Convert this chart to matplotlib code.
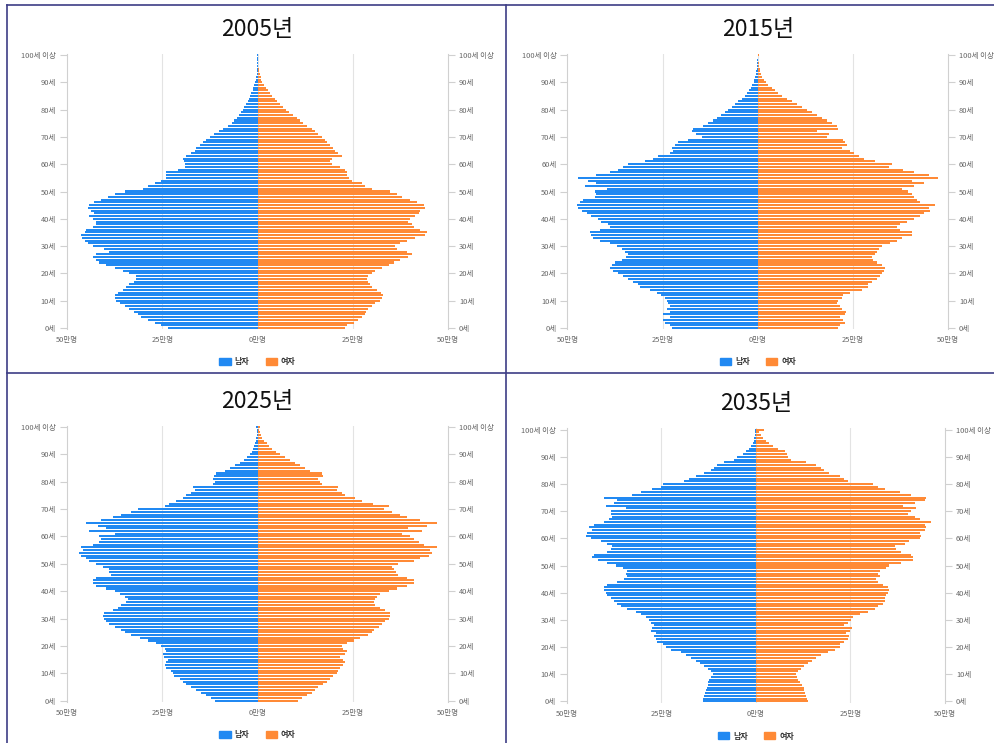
import numpy as np
import matplotlib
matplotlib.use("Agg")
import matplotlib.pyplot as plt
from matplotlib.patches import Patch
from matplotlib.lines import Line2D

plt.rcParams['font.family'] = ['Noto Sans CJK KR', 'DejaVu Sans']

ages = np.arange(101)
years = ["2005년", "2015년", "2025년", "2035년"]
age_ticks = [0, 10, 20, 30, 40, 50, 60, 70, 80, 90, 100]
age_labels = ["0세", "10세", "20세", "30세", "40세", "50세", "60세", "70세", "80세", "90세", "100세 이상"]
x_ticks = [-50, -25, 0, 25, 50]
x_labels = ["50만명", "25만명", "0만명", "25만명", "50만명"]

# population by single age, unit: 만명
male_2005 = [23.5, 25.3, 27.0, 28.8, 30.5, 31.4, 32.3, 33.6, 34.9, 36.2,
             37.1, 37.5, 37.3, 36.7, 35.4, 34.5, 33.6, 32.5, 31.8, 32.0,
             33.6, 35.4, 37.5, 39.7, 41.7, 42.5, 43.2, 42.4, 38.9, 40.2,
             43.2, 44.6, 45.4, 46.0, 46.3, 45.4, 45.0, 43.2, 42.4, 42.5,
             43.2, 44.1, 42.8, 43.7, 44.6, 44.1, 42.8, 41.1, 39.3, 37.5,
             34.9, 30.1, 28.8, 27.0, 25.3, 23.9, 24.1, 23.9, 20.9, 19.1,
             18.9, 19.4, 19.6, 18.7, 17.4, 16.5, 16.1, 15.2, 14.3, 13.4,
             12.5, 11.5, 10.1, 9.0, 7.7, 6.8, 6.1, 5.5, 4.9, 4.4,
             3.9, 3.5, 3.1, 2.6, 2.3, 1.9, 1.6, 1.3, 1.05, 0.8,
             0.6, 0.45, 0.35, 0.25, 0.2, 0.15, 0.1, 0.08, 0.05, 0.04, 0.1]
female_2005 = [23.0, 23.6, 25.2, 26.5, 27.4, 28.2, 28.5, 29.1, 30.0, 30.9,
               32.2, 32.6, 32.9, 32.4, 31.3, 30.0, 29.4, 29.1, 28.7, 29.1,
               30.0, 30.9, 32.6, 34.4, 35.7, 37.5, 39.6, 40.5, 39.2, 36.6,
               36.1, 37.5, 39.2, 41.4, 44.0, 44.5, 42.7, 41.0, 40.5, 39.6,
               40.1, 41.4, 42.3, 42.7, 44.0, 43.6, 41.8, 40.1, 37.9, 36.6,
               34.8, 30.0, 28.2, 27.4, 24.7, 23.9, 23.6, 23.4, 23.0, 21.7,
               19.5, 18.9, 19.5, 22.1, 21.2, 20.4, 19.9, 19.0, 18.2, 17.7,
               16.8, 16.0, 15.1, 14.2, 12.9, 12.0, 11.1, 10.3, 9.2, 8.3,
               7.5, 6.6, 5.9, 5.2, 4.6, 3.9, 3.4, 2.8, 2.2, 1.7,
               1.2, 1.0, 0.8, 0.6, 0.45, 0.35, 0.25, 0.2, 0.15, 0.1, 0.2]
male_2015 = [22.6, 23.1, 24.4, 24.8, 23.1, 24.8, 23.1, 23.9, 23.1, 23.5,
             23.9, 24.4, 25.3, 26.6, 28.3, 31.0, 31.4, 32.7, 34.0, 35.4,
             36.7, 38.0, 38.9, 38.4, 37.5, 35.8, 34.5, 34.0, 34.9, 35.8,
             37.1, 38.9, 41.5, 43.2, 43.9, 44.1, 41.5, 38.9, 39.3, 41.1,
             41.9, 43.7, 45.0, 46.1, 47.2, 47.6, 46.8, 45.9, 42.8, 42.4,
             42.8, 39.7, 45.4, 42.4, 44.6, 47.2, 42.4, 38.9, 36.7, 35.4,
             34.0, 29.6, 27.5, 26.1, 23.1, 22.2, 22.6, 21.8, 20.9, 18.2,
             14.7, 16.1, 17.4, 16.9, 14.3, 13.0, 11.7, 10.8, 9.7, 8.6,
             7.7, 6.8, 6.0, 5.1, 4.2, 3.3, 2.7, 2.3, 1.8, 1.5,
             1.1, 0.9, 0.7, 0.5, 0.35, 0.25, 0.18, 0.12, 0.08, 0.05, 0.05]
female_2015 = [21.2, 21.7, 23.0, 22.5, 21.7, 23.0, 23.2, 22.1, 21.7, 20.8,
               21.2, 22.1, 22.5, 24.3, 27.4, 29.1, 29.1, 30.0, 31.3, 32.2,
               32.6, 33.1, 33.5, 32.6, 31.3, 30.4, 30.0, 30.9, 31.3, 31.8,
               32.6, 34.8, 36.6, 37.9, 40.5, 40.5, 37.5, 36.6, 37.5, 39.2,
               41.0, 42.7, 43.6, 45.4, 44.9, 46.7, 42.7, 41.8, 41.0, 40.5,
               39.6, 37.9, 41.0, 43.6, 40.5, 47.5, 44.9, 41.0, 38.3, 34.4,
               35.3, 30.9, 27.8, 26.5, 25.2, 24.3, 22.1, 23.4, 23.0, 22.5,
               18.2, 18.6, 15.5, 21.2, 20.8, 19.5, 18.2, 16.8, 15.5, 14.2,
               12.9, 11.6, 10.3, 8.9, 7.6, 6.3, 5.4, 4.6, 3.7, 2.8,
               2.2, 1.7, 1.1, 0.9, 0.7, 0.5, 0.35, 0.25, 0.18, 0.12, 0.3]
male_2025 = [11.2, 12.1, 13.4, 14.7, 16.1, 17.4, 18.7, 19.6, 20.4, 21.8,
             22.2, 22.6, 23.9, 24.4, 24.1, 23.5, 24.6, 24.8, 23.9, 24.4,
             25.3, 26.6, 28.8, 30.9, 33.2, 34.9, 35.8, 37.5, 38.9, 39.7,
             40.2, 40.6, 40.2, 38.0, 36.7, 35.8, 34.5, 34.0, 34.9, 36.0,
             37.5, 39.7, 42.4, 43.2, 43.2, 42.4, 38.4, 38.9, 38.9, 40.6,
             42.4, 44.1, 45.0, 46.3, 46.8, 45.9, 46.3, 43.2, 41.5, 41.1,
             41.5, 37.5, 44.1, 39.7, 41.9, 45.0, 41.1, 38.0, 35.8, 33.2,
             31.4, 24.4, 23.1, 21.3, 19.6, 18.7, 17.4, 16.5, 16.9, 11.7,
             11.2, 11.8, 11.5, 10.8, 8.6, 7.3, 6.0, 4.6, 3.6, 2.7,
             2.0, 1.5, 1.1, 0.9, 0.7, 0.5, 0.35, 0.25, 0.15, 0.1, 0.3]
female_2025 = [10.7, 11.6, 12.9, 14.2, 15.1, 16.0, 17.3, 18.2, 19.0, 19.9,
               20.8, 21.2, 21.7, 22.5, 23.0, 22.5, 21.7, 23.0, 23.4, 22.5,
               22.1, 23.4, 25.2, 26.9, 29.1, 30.0, 30.5, 31.8, 32.6, 33.5,
               34.4, 34.8, 34.8, 33.5, 32.2, 30.9, 30.5, 30.9, 31.3, 32.2,
               34.4, 36.6, 39.2, 41.0, 41.0, 39.2, 36.9, 36.4, 35.7, 35.3,
               37.0, 41.0, 42.7, 44.9, 45.8, 45.4, 47.1, 43.6, 42.3, 41.0,
               40.1, 37.9, 43.2, 39.6, 44.5, 47.1, 42.7, 39.2, 37.5, 35.3,
               33.1, 34.4, 30.4, 27.4, 25.6, 23.0, 22.1, 20.8, 21.0, 16.8,
               16.4, 16.0, 17.3, 16.8, 13.8, 12.5, 11.1, 9.8, 8.5, 7.2,
               5.9, 4.8, 3.9, 3.1, 2.4, 1.7, 1.2, 0.9, 0.6, 0.5, 0.6]
male_2035 = [14.1, 13.9, 13.7, 13.5, 13.3, 13.0, 12.8, 12.6, 12.4, 11.9,
             11.5, 11.9, 12.8, 13.7, 14.8, 15.9, 17.2, 18.6, 19.9, 22.5,
             23.9, 24.7, 26.1, 26.5, 26.9, 26.5, 27.8, 27.4, 26.9, 27.8,
             28.3, 29.2, 30.5, 31.8, 34.0, 35.8, 36.7, 37.5, 38.4, 39.3,
             39.8, 40.2, 40.2, 39.3, 36.7, 35.0, 34.0, 34.5, 34.0, 35.3,
             37.1, 39.3, 41.9, 43.3, 42.8, 39.3, 38.4, 38.0, 39.3, 41.1,
             43.7, 45.1, 44.6, 43.3, 44.2, 42.8, 40.2, 38.9, 38.0, 38.4,
             38.4, 34.5, 39.8, 37.5, 36.7, 40.2, 32.7, 30.5, 27.4, 25.2,
             24.7, 19.0, 17.7, 15.9, 13.7, 11.9, 11.0, 10.2, 8.4, 5.7,
             4.9, 3.5, 2.7, 1.8, 1.3, 0.9, 0.6, 0.4, 0.3, 0.2, 0.3]
female_2035 = [13.7, 13.5, 13.3, 13.0, 12.8, 12.6, 12.1, 11.7, 11.2, 10.9,
               10.6, 11.0, 11.9, 12.8, 13.7, 14.8, 15.9, 17.2, 19.0, 20.8,
               22.1, 22.3, 23.4, 24.3, 24.7, 23.9, 25.0, 25.4, 23.4, 24.3,
               25.2, 25.6, 27.4, 29.6, 31.4, 32.2, 33.6, 34.0, 34.0, 34.5,
               34.9, 35.3, 34.9, 33.6, 32.2, 31.8, 32.7, 32.2, 32.7, 34.5,
               35.3, 38.4, 41.5, 41.5, 41.1, 38.4, 37.1, 36.7, 39.3, 40.6,
               43.3, 43.7, 43.3, 44.6, 45.1, 44.6, 46.4, 43.3, 42.0, 40.2,
               41.1, 42.4, 38.9, 42.0, 44.6, 45.1, 41.1, 38.0, 34.0, 32.2,
               30.9, 24.3, 23.4, 22.1, 19.4, 18.1, 17.2, 15.9, 13.3, 9.3,
               8.4, 8.2, 7.7, 5.7, 4.4, 3.5, 2.7, 1.8, 1.3, 0.9, 2.2]

males = [male_2005, male_2015, male_2025, male_2035]
females = [female_2005, female_2015, female_2025, female_2035]

BLUE = "#2189f2"
ORANGE = "#ff8a36"
W, H = 995, 743

fig = plt.figure(figsize=(W / 100, H / 100), dpi=100)

# plot areas in pixels: left, top, right, bottom
boxes = [(67, 53.6, 448, 329.4), (567.5, 53.6, 948, 329.4),
         (67, 425.6, 448, 702.1), (567, 428.3, 945, 702.7)]
title_y = [29, 29, 402, 404]
legend_y = [362, 362, 735, 736]

for i in range(4):
    l, t, r, b = boxes[i]
    ax = fig.add_axes([l / W, 1 - b / H, (r - l) / W, (b - t) / H])
    m = np.array(males[i])
    f = np.array(females[i])
    ax.barh(ages, -m, height=0.74, color=BLUE, linewidth=0, zorder=2)
    ax.barh(ages, f, height=0.74, color=ORANGE, linewidth=0, zorder=2)
    ax.set_xlim(-50, 50)
    ax.set_ylim(-0.5, 100.5)
    for gx in [-25, 0, 25]:
        ax.axvline(gx, color="#e3e3e3", lw=0.8, zorder=0)
    for s in ["top", "bottom"]:
        ax.spines[s].set_visible(False)
    for s in ["left", "right"]:
        ax.spines[s].set_color("#d0d0d0")
        ax.spines[s].set_linewidth(0.8)
    ax.set_yticks(age_ticks)
    ax.set_yticklabels(age_labels)
    ax.tick_params(axis="y", left=True, right=True, labelleft=True, labelright=True,
                   length=5, width=0.8, color="#d0d0d0", labelsize=5.4,
                   labelcolor="#666666", pad=3)
    ax.set_xticks(x_ticks)
    ax.set_xticklabels(x_labels)
    ax.tick_params(axis="x", length=0, labelsize=5.4, labelcolor="#666666", pad=5)
    cx = (l + r) / 2
    fig.text(cx / W, 1 - title_y[i] / H, years[i], ha="center", va="center",
             fontsize=16.5, color="#111111")
    handles = [Patch(color=BLUE, label="남자"), Patch(color=ORANGE, label="여자")]
    fig.legend(handles=handles, loc="center", bbox_to_anchor=(cx / W, 1 - legend_y[i] / H),
               ncol=2, frameon=False, prop={"size": 5.8, "weight": "bold"},
               handlelength=1.4, handleheight=0.9,
               handletextpad=0.5, columnspacing=2.0, labelcolor="#333333")

# panel frame lines
frame = "#3d3d85"
fig.add_artist(Line2D([7 / W, 7 / W], [0, 1 - 5 / H], color=frame, lw=1.2))
fig.add_artist(Line2D([7 / W, 1], [1 - 5 / H, 1 - 5 / H], color=frame, lw=1.2))
fig.add_artist(Line2D([506 / W, 506 / W], [0, 1 - 5 / H], color=frame, lw=1.2))
fig.add_artist(Line2D([7 / W, 1], [1 - 373 / H, 1 - 373 / H], color=frame, lw=1.2))

fig.savefig("out.png", dpi=100)
